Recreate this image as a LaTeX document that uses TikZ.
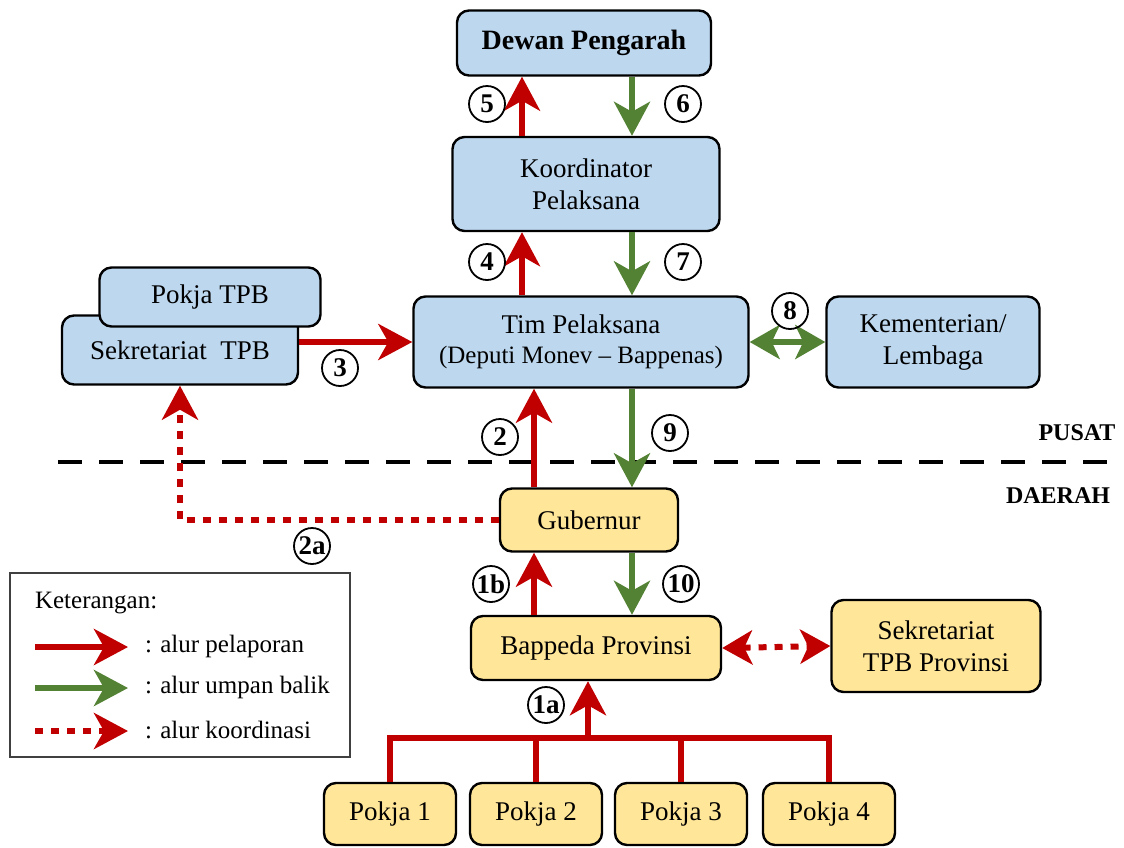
\documentclass[tikz,border=0pt]{standalone}
\usepackage{fontspec}
\setmainfont{Liberation Serif}
\usetikzlibrary{arrows.meta}
\definecolor{BoxBlue}{RGB}{189,215,238}
\definecolor{BoxYellow}{RGB}{255,230,153}
\definecolor{LaporRed}{RGB}{192,0,0}
\definecolor{BalikGreen}{RGB}{84,130,53}

\begin{document}
\begin{tikzpicture}[x=0.5pt, y=-0.5pt,
  font=\fontsize{13.5}{15}\selectfont,
  box/.style={draw, line width=1.2pt, rounded corners=6pt, align=center, inner sep=2pt},
  pusatbox/.style={box, fill=BoxBlue},
  daerahbox/.style={box, fill=BoxYellow},
  bigtip/.style={-{Stealth[length=17pt, width=18pt, inset=5pt]}},
  lapor/.style={bigtip, LaporRed, line width=3pt},
  balik/.style={bigtip, BalikGreen, line width=3pt},
  koordinasi/.style={bigtip, LaporRed, line width=3pt, dash pattern=on 4pt off 4pt},
  duaarah/.style={{Stealth[length=15pt, width=17pt, inset=4pt]}-{Stealth[length=15pt, width=17pt, inset=4pt]}},
  nomor/.style={circle, draw, line width=0.9pt, inner sep=0.3pt, minimum size=18pt,
    font=\bfseries\fontsize{13.5}{13.5}\selectfont},
  wilayah/.style={font=\bfseries\fontsize{12}{12}\selectfont},
  keterangan/.style={anchor=west, font=\fontsize{12.5}{14}\selectfont}]
  \useasboundingbox (0,0) rectangle (1124,847);

  % tingkat pusat
  \node[pusatbox, minimum width=127pt, minimum height=32.5pt,
    font=\bfseries\fontsize{14}{16}\selectfont] (dewan) at (584,43) {Dewan Pengarah};
  \node[pusatbox, minimum width=133.5pt, minimum height=47pt] (koord) at (586,184)
    {Koordinator\\[1pt]Pelaksana};
  \node[pusatbox, minimum width=167.5pt, minimum height=45.5pt] (tim) at (581,342)
    {Tim Pelaksana\\{\fontsize{12.5}{14}\selectfont(Deputi Monev -- Bappenas)}};
  \node[pusatbox, minimum width=106.5pt, minimum height=45.5pt] (kl) at (933,342)
    {Kementerian/\\[1pt]Lembaga};
  \node[pusatbox, minimum width=118pt, minimum height=34.5pt] (sekr) at (180,350)
    {\raisebox{-2pt}{Sekretariat\ \ TPB}};
  \node[pusatbox, minimum width=110.5pt, minimum height=29.5pt] (pokjatpb) at (210,297)
    {Pokja TPB};

  % tingkat daerah
  \node[daerahbox, minimum width=89pt, minimum height=31.5pt] (gub) at (589,520) {Gubernur};
  \node[daerahbox, minimum width=125pt, minimum height=32pt] (bappeda) at (596,648)
    {Bappeda Provinsi};
  \node[daerahbox, minimum width=104.5pt, minimum height=46pt] (sekprov) at (936,646)
    {Sekretariat\\[1pt]TPB Provinsi};
  \foreach \i/\x in {1/390, 2/536, 3/681, 4/829}
    \node[daerahbox, minimum width=66pt, minimum height=31pt] (pokja\i) at (\x,814) {Pokja \i};

  % garis batas pusat - daerah
  \coordinate (batasL) at (58,462);
  \coordinate (batasR) at (1110,462);
  \draw[line width=2pt, dash pattern=on 12pt off 8.5pt] (batasL) -- (batasR);
  \node[wilayah] (pusat) at (1077,433) {PUSAT};
  \node[wilayah] (daerah) at (1058,496) {DAERAH};

  % posisi panah
  \coordinate (xr) at (522,0);
  \coordinate (xg) at (632,0);
  \coordinate (xrl) at (534,0);
  \coordinate (xt) at (588,0);
  \coordinate (bus) at (0,738);

  \draw[lapor] (koord.north -| xr) -- (dewan.south -| xr);
  \draw[balik] (dewan.south -| xg) -- (koord.north -| xg);
  \draw[lapor] (tim.north -| xr) -- (koord.south -| xr);
  \draw[balik] (koord.south -| xg) -- (tim.north -| xg);
  \draw[lapor] (sekr.east |- tim) -- (tim.west);
  \draw[balik, duaarah] (tim.east) -- (kl.west);
  \draw[lapor] (gub.north -| xrl) -- (tim.south -| xrl);
  \draw[balik] (tim.south -| xg) -- (gub.north -| xg);
  \draw[koordinasi] (gub.west) -| (sekr.south);
  \draw[lapor] (bappeda.north -| xrl) -- (gub.south -| xrl);
  \draw[balik] (gub.south -| xg) -- (bappeda.north -| xg);
  \draw[koordinasi, duaarah] (bappeda.east) -- (sekprov.west);

  % pokja ke bappeda
  \draw[LaporRed, line width=3pt] (pokja1.north) -- (pokja1.north |- bus)
    -- (pokja4.north |- bus) -- (pokja4.north);
  \draw[LaporRed, line width=3pt] (pokja2.north) -- (pokja2.north |- bus);
  \draw[LaporRed, line width=3pt] (pokja3.north) -- (pokja3.north |- bus);
  \draw[lapor] (bus -| xt) -- (bappeda.south -| xt);

  % nomor alur
  \node[nomor] (n5) at (487,104) {5};
  \node[nomor] (n6) at (683,104) {6};
  \node[nomor] (n4) at (487,262) {4};
  \node[nomor] (n7) at (683,262) {7};
  \node[nomor] (n3) at (340,368) {3};
  \node[nomor] (n8) at (790,311) {8};
  \node[nomor] (n2) at (500,437) {2};
  \node[nomor] (n9) at (670,433) {9};
  \node[nomor] (n2a) at (312,546) {2a};
  \node[nomor] (n1b) at (491,584) {1b};
  \node[nomor] (n10) at (681,584) {10};
  \node[nomor] (n1a) at (546,705) {1a};

  % keterangan
  \node[draw=black!75, line width=0.8pt, minimum width=170pt, minimum height=92pt] (legenda)
    at (180,665) {};
  \node[keterangan] (ket) at (28,603) {Keterangan:};
  \draw[lapor] (35,647) -- (128,647);
  \draw[balik] (35,688) -- (128,688);
  \draw[koordinasi] (35,731) -- (128,731);
  \node[keterangan] (ketlapor) at (138,646) {: alur pelaporan};
  \node[keterangan] (ketbalik) at (138,687) {: alur umpan balik};
  \node[keterangan] (ketkoord) at (138,730) {: alur koordinasi};
\end{tikzpicture}
\end{document}
